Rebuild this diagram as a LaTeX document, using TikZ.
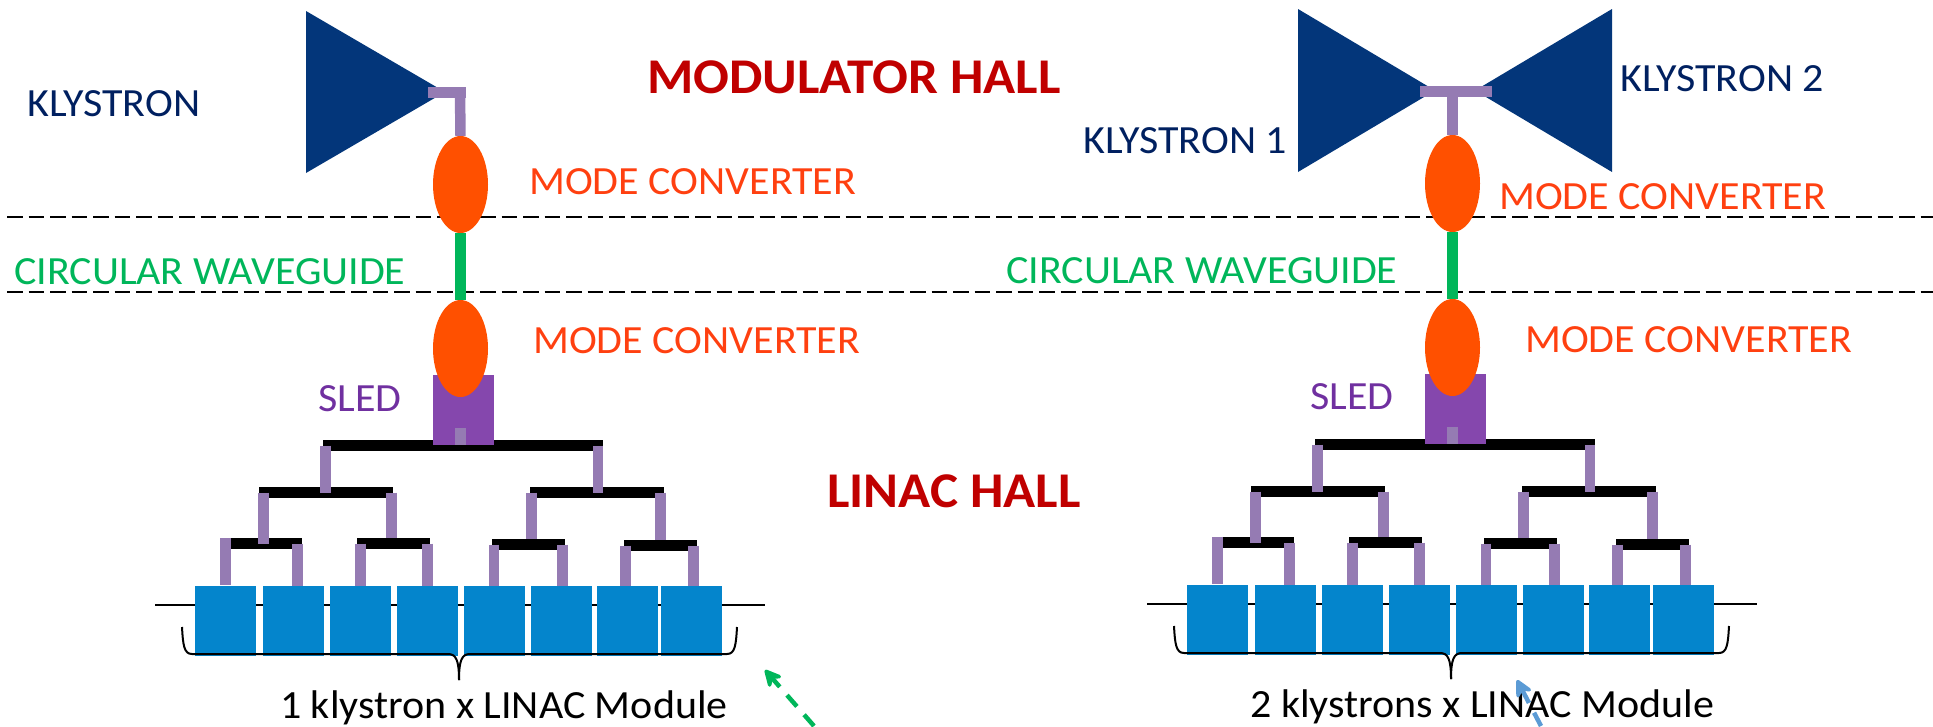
\documentclass[tikz,border=0pt]{standalone}
\usepackage{fontspec}
\setmainfont{Carlito}
\usetikzlibrary{shapes.geometric,arrows.meta}
\definecolor{navy}{HTML}{002060}
\definecolor{klyblue}{HTML}{03367A}
\definecolor{feedpurple}{HTML}{957BB3}
\definecolor{sledpurple}{HTML}{8547AD}
\definecolor{sledtext}{HTML}{7030A0}
\definecolor{modeorange}{HTML}{FF5000}
\definecolor{modetext}{HTML}{FF4010}
\definecolor{hallred}{HTML}{C00000}
\definecolor{wggreen}{HTML}{00B65A}
\definecolor{cavblue}{HTML}{0485CC}
\definecolor{arrowblue}{HTML}{5B9BD5}
\tikzset{
  lbl/.style={anchor=base west,inner sep=0pt,xscale=1.05,font=\fontsize{40}{40}\selectfont},
  hall/.style={lbl,xscale=1.01,text=hallred,font=\fontsize{50}{50}\selectfont\bfseries},
  wgbar/.style={rectangle,fill=black,inner sep=0pt,minimum height=11pt},
  cavity/.style={rectangle,fill=cavblue,inner sep=0pt,minimum width=61pt,minimum height=70pt},
  modeconv/.style={ellipse,fill=modeorange,inner sep=0pt,minimum width=55pt,minimum height=97pt},
  sled/.style={rectangle,fill=sledpurple,inner sep=0pt,minimum width=61pt,minimum height=70pt},
  feed/.style={draw=feedpurple,line width=10.5pt},
  klystron/.style={fill=klyblue},
  hallline/.style={black,line width=2pt,dash pattern=on 15.5pt off 6pt},
  pointer/.style={line width=4.5pt,dash pattern=on 15pt off 11pt,
    -{Stealth[length=22pt,width=22pt,inset=8pt,round]}}
}
\newcommand{\wgbar}[4]{\node[wgbar,minimum width=#4pt] (#1) at (#2,#3) {};}
\newcommand{\cavity}[3]{\node[cavity] (#1) at (#2,#3) {};}
\newcommand{\feed}[3]{\draw[feed] (#1,0 |- #2) -- (#1,0 |- #3);}
\newcommand{\lbl}[5]{\node[lbl,text=#4] (#1) at (#2,#3) {#5};}
% one klystron line, drawn at the coordinates of the left one
\newcommand{\rfcolumn}{
    \coordinate (bl) at (155,605); \coordinate (br) at (765,605);
    \draw[line width=2pt] (bl) -- (br);
    \wgbar{top}{462.5}{445.5}{280}
    \wgbar{midl}{326}{492.5}{134} \wgbar{midr}{597}{492.5}{134}
    \wgbar{lowa}{263.5}{543.5}{77} \wgbar{lowb}{393.5}{543.5}{73}
    \wgbar{lowc}{528}{544.5}{73} \wgbar{lowd}{660.5}{545.5}{73}
    \cavity{c1}{225.5}{620.5} \cavity{c2}{293.5}{621}
    \cavity{c3}{360.5}{621} \cavity{c4}{427.5}{621}
    \cavity{c5}{494.5}{621} \cavity{c6}{561.5}{621}
    \cavity{c7}{627.5}{621} \cavity{c8}{691.5}{621}
    \feed{325.5}{top}{midl} \feed{598}{top}{midr}
    \feed{263.5}{midl}{lowa} \feed{391.5}{midl}{lowb.north}
    \feed{531.5}{midr}{lowc.north} \feed{660.5}{midr}{lowd.north}
    \feed{225.5}{lowa.north}{c1.north} \feed{297.5}{lowa}{c2.north}
    \feed{360.5}{lowb}{c3.north} \feed{427.5}{lowb}{c4.north}
    \feed{494}{lowc}{c5.north} \feed{562.5}{lowc}{c6.north}
    \feed{625.5}{lowd}{c7.north} \feed{693.5}{lowd}{c8.north}
    \node[sled] (sled) at (463.5,410) {};
    \coordinate (sa) at (460.5,428); \coordinate (sb) at (460.5,445);
    \draw[feed] (sa) -- (sb);
    \node[modeconv] (mca) at (460.5,184.5) {};
    \node[modeconv] (mcb) at (460.5,348.5) {};
    \draw[wggreen,line width=10.5pt] (mca.south) -- (mcb.north);
    \draw[line width=2pt] (182,627) .. controls (183,645) and (184,654) .. (192,654) -- (448,654)
        .. controls (456,654) and (459,660) .. (459,680);
    \draw[line width=2pt] (459,680) .. controls (459,660) and (462,654) .. (470,654) -- (727,654)
        .. controls (735,654) and (736,645) .. (737,627);
}
\begin{document}
\begin{tikzpicture}[x=1pt,y=-1pt]
    \useasboundingbox (0,0) rectangle (1933,726);
    \coordinate (ha) at (7,217); \coordinate (hb) at (1933,217);
    \coordinate (hc) at (7,292); \coordinate (hd) at (1933,292);
    \draw[hallline] (ha) -- (hb); \draw[hallline] (hc) -- (hd);

    \fill[klystron] (306,11) -- (445,92) -- (306,173) -- cycle;
    \fill[klystron] (1298,9) -- (1435,90.5) -- (1298,172) -- cycle;
    \fill[klystron] (1612,9) -- (1475,90.5) -- (1612,172) -- cycle;
    \begin{scope}[name prefix=a]
    \rfcolumn
    \end{scope}
    \begin{scope}[name prefix=b,shift={(992,-1)}]
    \rfcolumn
    \end{scope}
    % klystron feeds
    \coordinate (ka) at (428,92.5); \coordinate (kb) at (466,92.5); \coordinate (kc) at (460,92.5);
    \draw[feed] (ka) -- (kb); \draw[feed] (kc) -- (amca.north);
    \coordinate (kd) at (1420,91.5); \coordinate (ke) at (1492,91.5); \coordinate (kf) at (1452.5,91.5);
    \draw[feed] (kd) -- (ke); \draw[feed] (kf) -- (bmca.north);

    \lbl{kl}{27}{116}{navy}{KLYSTRON}
    \lbl{kla}{1083}{153}{navy}{KLYSTRON 1}
    \lbl{klb}{1620}{91}{navy}{KLYSTRON 2}
    \lbl{mcla}{529}{194}{modetext}{MODE CONVERTER}
    \lbl{mclb}{533}{353}{modetext}{MODE CONVERTER}
    \lbl{mclc}{1499}{209}{modetext}{MODE CONVERTER}
    \lbl{mcld}{1525}{352}{modetext}{MODE CONVERTER}
    \lbl{wga}{14}{284}{wggreen}{CIRCULAR WAVEGUIDE}
    \lbl{wgb}{1006}{283}{wggreen}{CIRCULAR WAVEGUIDE}
    \lbl{sa}{318}{411}{sledtext}{SLED}
    \lbl{sb}{1310}{409}{sledtext}{SLED}
    \lbl{ma}{280}{718}{black}{1 klystron x LINAC Module}
    \lbl{mb}{1250}{717.5}{black}{2 klystrons x LINAC Module}
    \node[hall] (hm) at (647,93) {MODULATOR HALL};
    \node[hall] (hl) at (827,507) {LINAC HALL};

    \coordinate (ga) at (814,726); \coordinate (gb) at (765,670);
    \draw[pointer,wggreen] (ga) -- (gb);
    \coordinate (bb) at (1541,726); \coordinate (bc) at (1517,680);
    \draw[pointer,arrowblue] (bb) -- (bc);
\end{tikzpicture}
\end{document}
